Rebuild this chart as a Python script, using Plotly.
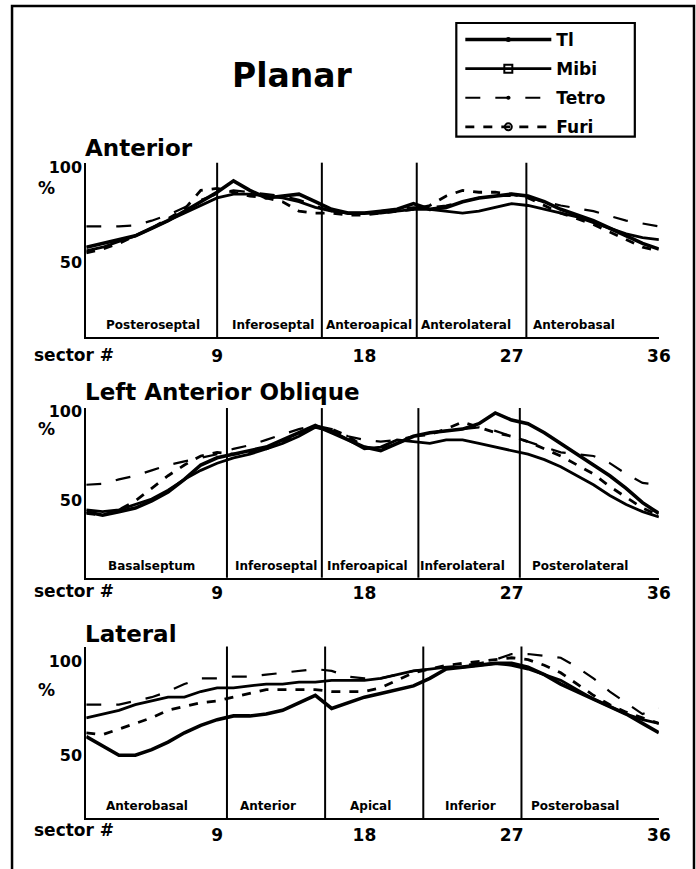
import plotly.graph_objects as go

REF_W, REF_H = 696, 869
FIG_W, FIG_H = 710, 869

sectors = list(range(1, 37))
series_names = ["Tl", "Mibi", "Tetro", "Furi"]

# ---- Anterior ----
ant_tl = [58, 60, 62, 64, 68, 72, 77, 82, 87, 93, 88, 84, 85, 86, 82, 78, 76, 76,
          77, 78, 81, 78, 79, 82, 84, 85, 86, 85, 82, 78, 75, 72, 68, 64, 60, 57]
ant_mibi = [56, 58, 61, 64, 68, 72, 76, 80, 84, 86, 86, 85, 84, 82, 79, 77, 76, 76,
            76, 77, 78, 78, 77, 76, 77, 79, 81, 80, 78, 76, 74, 71, 68, 65, 63, 62]
ant_tetro = [69, 69, 69, 69.5, 72, 75, 79, 83, 86, 88, 87, 86, 85, 83, 80, 77, 76, 76,
             77, 78, 79, 79, 80, 82, 84, 85, 85, 84, 82, 80, 78.5, 77, 74.5, 72, 70.5, 69]
ant_furi = [55, 57, 60, 64, 68, 73, 78, 88, 89, 87, 85, 84, 82, 77, 76, 76, 75, 75,
            76, 77, 78, 80, 85, 88, 87, 87, 86, 84, 80, 76, 73, 70, 66, 62, 58, 56]

# ---- Left Anterior Oblique ----
lao_tl = [44, 42, 44, 46, 50, 55, 62, 70, 74, 76, 78, 80, 84, 88, 92, 88, 84, 80,
          78, 82, 86, 88, 89, 90, 93, 99, 95, 93, 88, 82, 76, 70, 64, 57, 49, 43]
lao_mibi = [45, 44, 45, 48, 51, 56, 62, 67, 71, 74, 76, 79, 82, 86, 91, 89, 84, 79,
            80, 84, 83, 82, 84, 84, 82, 80, 78, 76, 73, 69, 64, 59, 53, 48, 44, 41]
lao_tetro = [59, 59.5, 62, 64, 67, 70, 72, 74, 76, 79, 81, 84, 87, 90, 92, 90, 86, 84,
             83, 84, 86, 88, 89, 90, 91, 89, 86, 83, 80, 77, 76, 75, 71, 65, 60, 59]
lao_furi = [43, 42, 45, 50, 57, 64, 70, 75, 77, 76, 77, 79, 83, 87, 91, 90, 86, 80,
            79, 82, 86, 87, 90, 94, 91, 88, 86, 83, 79, 75, 70, 65, 58, 52, 46, 42]

# ---- Lateral ----
lat_tl = [60, 55, 50, 50, 53, 57, 62, 66, 69, 71, 71, 72, 74, 78, 82, 75, 78, 81,
          83, 85, 87, 91, 96, 97, 98, 99, 99, 97, 93, 88, 84, 80, 76, 72, 67, 62]
lat_mibi = [70, 72, 74, 77, 79, 81, 81, 84, 86, 86, 87, 88, 88, 89, 89, 90, 90, 90,
            91, 93, 95, 96, 97, 97, 98, 99, 98, 96, 93, 90, 85, 80, 76, 72, 69, 67]
lat_tetro = [77, 77, 77, 79, 81, 84, 88, 91, 91, 92, 92, 93, 94, 95, 96, 95, 92, 91,
             91, 93, 95, 96, 97, 98, 99, 101, 104, 104, 103, 102, 97, 91, 84, 78, 72, 75]
lat_furi = [62, 61, 64, 67, 70, 74, 76, 78, 79, 81, 83, 85, 85, 85, 85, 84, 84, 84,
            86, 90, 94, 96, 98, 99, 100, 101, 102, 101, 98, 94, 88, 82, 77, 73, 70, 67]

panel_titles = ["Anterior", "Left Anterior Oblique", "Lateral"]
ant_regions = ["Posteroseptal", "Inferoseptal", "Anteroapical", "Anterolateral", "Anterobasal"]
lao_regions = ["Basalseptum", "Inferoseptal", "Inferoapical", "Inferolateral", "Posterolateral"]
lat_regions = ["Anterobasal", "Anterior", "Apical", "Inferior", "Posterobasal"]
ant_bounds = [9.0, 15.4, 21.2, 27.9]
lao_bounds = [9.6, 15.4, 21.3, 27.5]
lat_bounds = [9.6, 15.6, 21.6, 27.6]
ant_label_x = [5.1, 12.4, 18.3, 24.2, 30.8]
lao_label_x = [5.0, 12.6, 18.2, 24.0, 31.2]
lat_label_x = [4.7, 12.1, 18.4, 24.5, 30.9]
x_ticks = [9, 18, 27, 36]
y_ticks = [50, 100]

# ---- styling / placement (kept apart from the data) ----
FONT = "DejaVu Sans"
styles = {
    "Tl":    dict(line=dict(color="black", width=3.6, dash="solid"),
                  marker=dict(symbol="circle", size=5, color="black")),
    "Mibi":  dict(line=dict(color="black", width=2.8, dash="solid"),
                  marker=dict(symbol="square-open", size=8, color="black", line=dict(width=2))),
    "Tetro": dict(line=dict(color="black", width=2.2, dash="longdash"),
                  marker=dict(symbol="circle", size=4, color="black")),
    "Furi":  dict(line=dict(color="black", width=2.8, dash="dash"),
                  marker=dict(symbol="circle-open", size=7, color="black", line=dict(width=2))),
}

panels = [
    dict(series=[ant_tl, ant_mibi, ant_tetro, ant_furi], regions=ant_regions,
         bounds=ant_bounds, label_x=ant_label_x, title=panel_titles[0],
         ypx=(163, 338), yrange=[10.5, 102.6], title_y=148, pct_y=188, sec_y=356, standoff=2),
    dict(series=[lao_tl, lao_mibi, lao_tetro, lao_furi], regions=lao_regions,
         bounds=lao_bounds, label_x=lao_label_x, title=panel_titles[1],
         ypx=(409, 579), yrange=[7.2, 101.7], title_y=393, pct_y=430, sec_y=592, standoff=-1),
    dict(series=[lat_tl, lat_mibi, lat_tetro, lat_furi], regions=lat_regions,
         bounds=lat_bounds, label_x=lat_label_x, title=panel_titles[2],
         ypx=(648, 820), yrange=[16.5, 108.0], title_y=635, pct_y=692, sec_y=832, standoff=0),
]

XPX = (86, 657)


def px_x(p):
    return p / REF_W


def px_y(p):
    p = p - (6 - 4 * p / REF_H)
    return min(1.0, 1 - p / REF_H)


fig = go.Figure()
annotations = []
shapes = []
layout = {}

for i, pn in enumerate(panels):
    sfx = "" if i == 0 else str(i + 1)
    xa, ya = "x" + sfx, "y" + sfx
    for name, vals in zip(series_names, pn["series"]):
        st = styles[name]
        fig.add_trace(go.Scatter(
            x=sectors, y=vals, mode="lines+markers", name=name,
            legendgroup=name, showlegend=(i == 0),
            line=st["line"], marker=st["marker"],
            selectedpoints=[], unselected=dict(marker=dict(opacity=0)),
            xaxis=xa, yaxis=ya, hoverinfo="skip"))
    top, bot = pn["ypx"]
    layout["xaxis" + sfx] = dict(
        domain=[px_x(XPX[0]), px_x(XPX[1])], range=[1, 36], anchor=ya,
        showline=True, linecolor="black", linewidth=2, showgrid=False, zeroline=False,
        ticks="", tickvals=x_ticks, ticklabelstandoff=pn["standoff"],
        tickfont=dict(family=FONT, size=17, color="black", weight="bold"))
    layout["yaxis" + sfx] = dict(
        domain=[px_y(bot), px_y(top)], range=pn["yrange"], anchor=xa,
        showline=True, linecolor="black", linewidth=2, showgrid=False, zeroline=False,
        ticks="", tickvals=y_ticks, ticklabelstandoff=-1,
        tickfont=dict(family=FONT, size=16, color="black", weight="bold"))
    for b in pn["bounds"]:
        shapes.append(dict(type="line", xref=xa, yref=ya + " domain", x0=b, x1=b, y0=0, y1=1,
                           line=dict(color="black", width=2)))
    for lab, lx in zip(pn["regions"], pn["label_x"]):
        annotations.append(dict(text=lab, x=lx, xref=xa, y=0.07, yref=ya + " domain",
                                showarrow=False, xanchor="center", yanchor="middle",
                                font=dict(family=FONT, size=12, color="black", weight="bold")))
    annotations.append(dict(text=pn["title"], x=px_x(83), y=px_y(pn["title_y"]), xref="paper", yref="paper",
                            showarrow=False, xanchor="left", yanchor="middle",
                            font=dict(family=FONT, size=23, color="black", weight="bold")))
    annotations.append(dict(text="%", x=px_x(46), y=px_y(pn["pct_y"]), xref="paper", yref="paper",
                            showarrow=False, xanchor="center", yanchor="middle",
                            font=dict(family=FONT, size=17, color="black", weight="bold")))
    annotations.append(dict(text="sector #", x=px_x(32), y=px_y(pn["sec_y"]), xref="paper", yref="paper",
                            showarrow=False, xanchor="left", yanchor="middle",
                            font=dict(family=FONT, size=17, color="black", weight="bold")))

annotations.append(dict(text="Planar", x=px_x(292), y=px_y(76), xref="paper", yref="paper",
                        showarrow=False, xanchor="center", yanchor="middle",
                        font=dict(family=FONT, size=33, color="black", weight="bold")))

# outer frame and legend box
shapes.append(dict(type="rect", xref="paper", yref="paper", x0=px_x(12), x1=px_x(692),
                   y0=-0.05, y1=px_y(6), line=dict(color="black", width=2.5)))
shapes.append(dict(type="rect", xref="paper", yref="paper", x0=px_x(455), x1=px_x(633),
                   y0=px_y(137), y1=px_y(23), line=dict(color="black", width=2.2)))

fig.update_layout(
    width=FIG_W, height=FIG_H, margin=dict(l=0, r=0, t=0, b=0),
    paper_bgcolor="white", plot_bgcolor="white",
    annotations=annotations, shapes=shapes,
    showlegend=True,
    legend=dict(x=px_x(459), y=px_y(22), xanchor="left", yanchor="top",
                borderwidth=0, bgcolor="rgba(0,0,0,0)",
                itemwidth=86, tracegroupgap=4,
                font=dict(family=FONT, size=17, color="black", weight="bold")),
    **layout)

fig.write_html(
    "out.html",
    config={"displayModeBar": False, "responsive": False},
    post_script=("document.documentElement.style.margin='0px';"
                 "document.documentElement.style.overflow='hidden';"
                 "document.body.style.margin='0px';"
                 "document.body.style.padding='0px';"
                 "document.body.style.overflow='hidden';"))
